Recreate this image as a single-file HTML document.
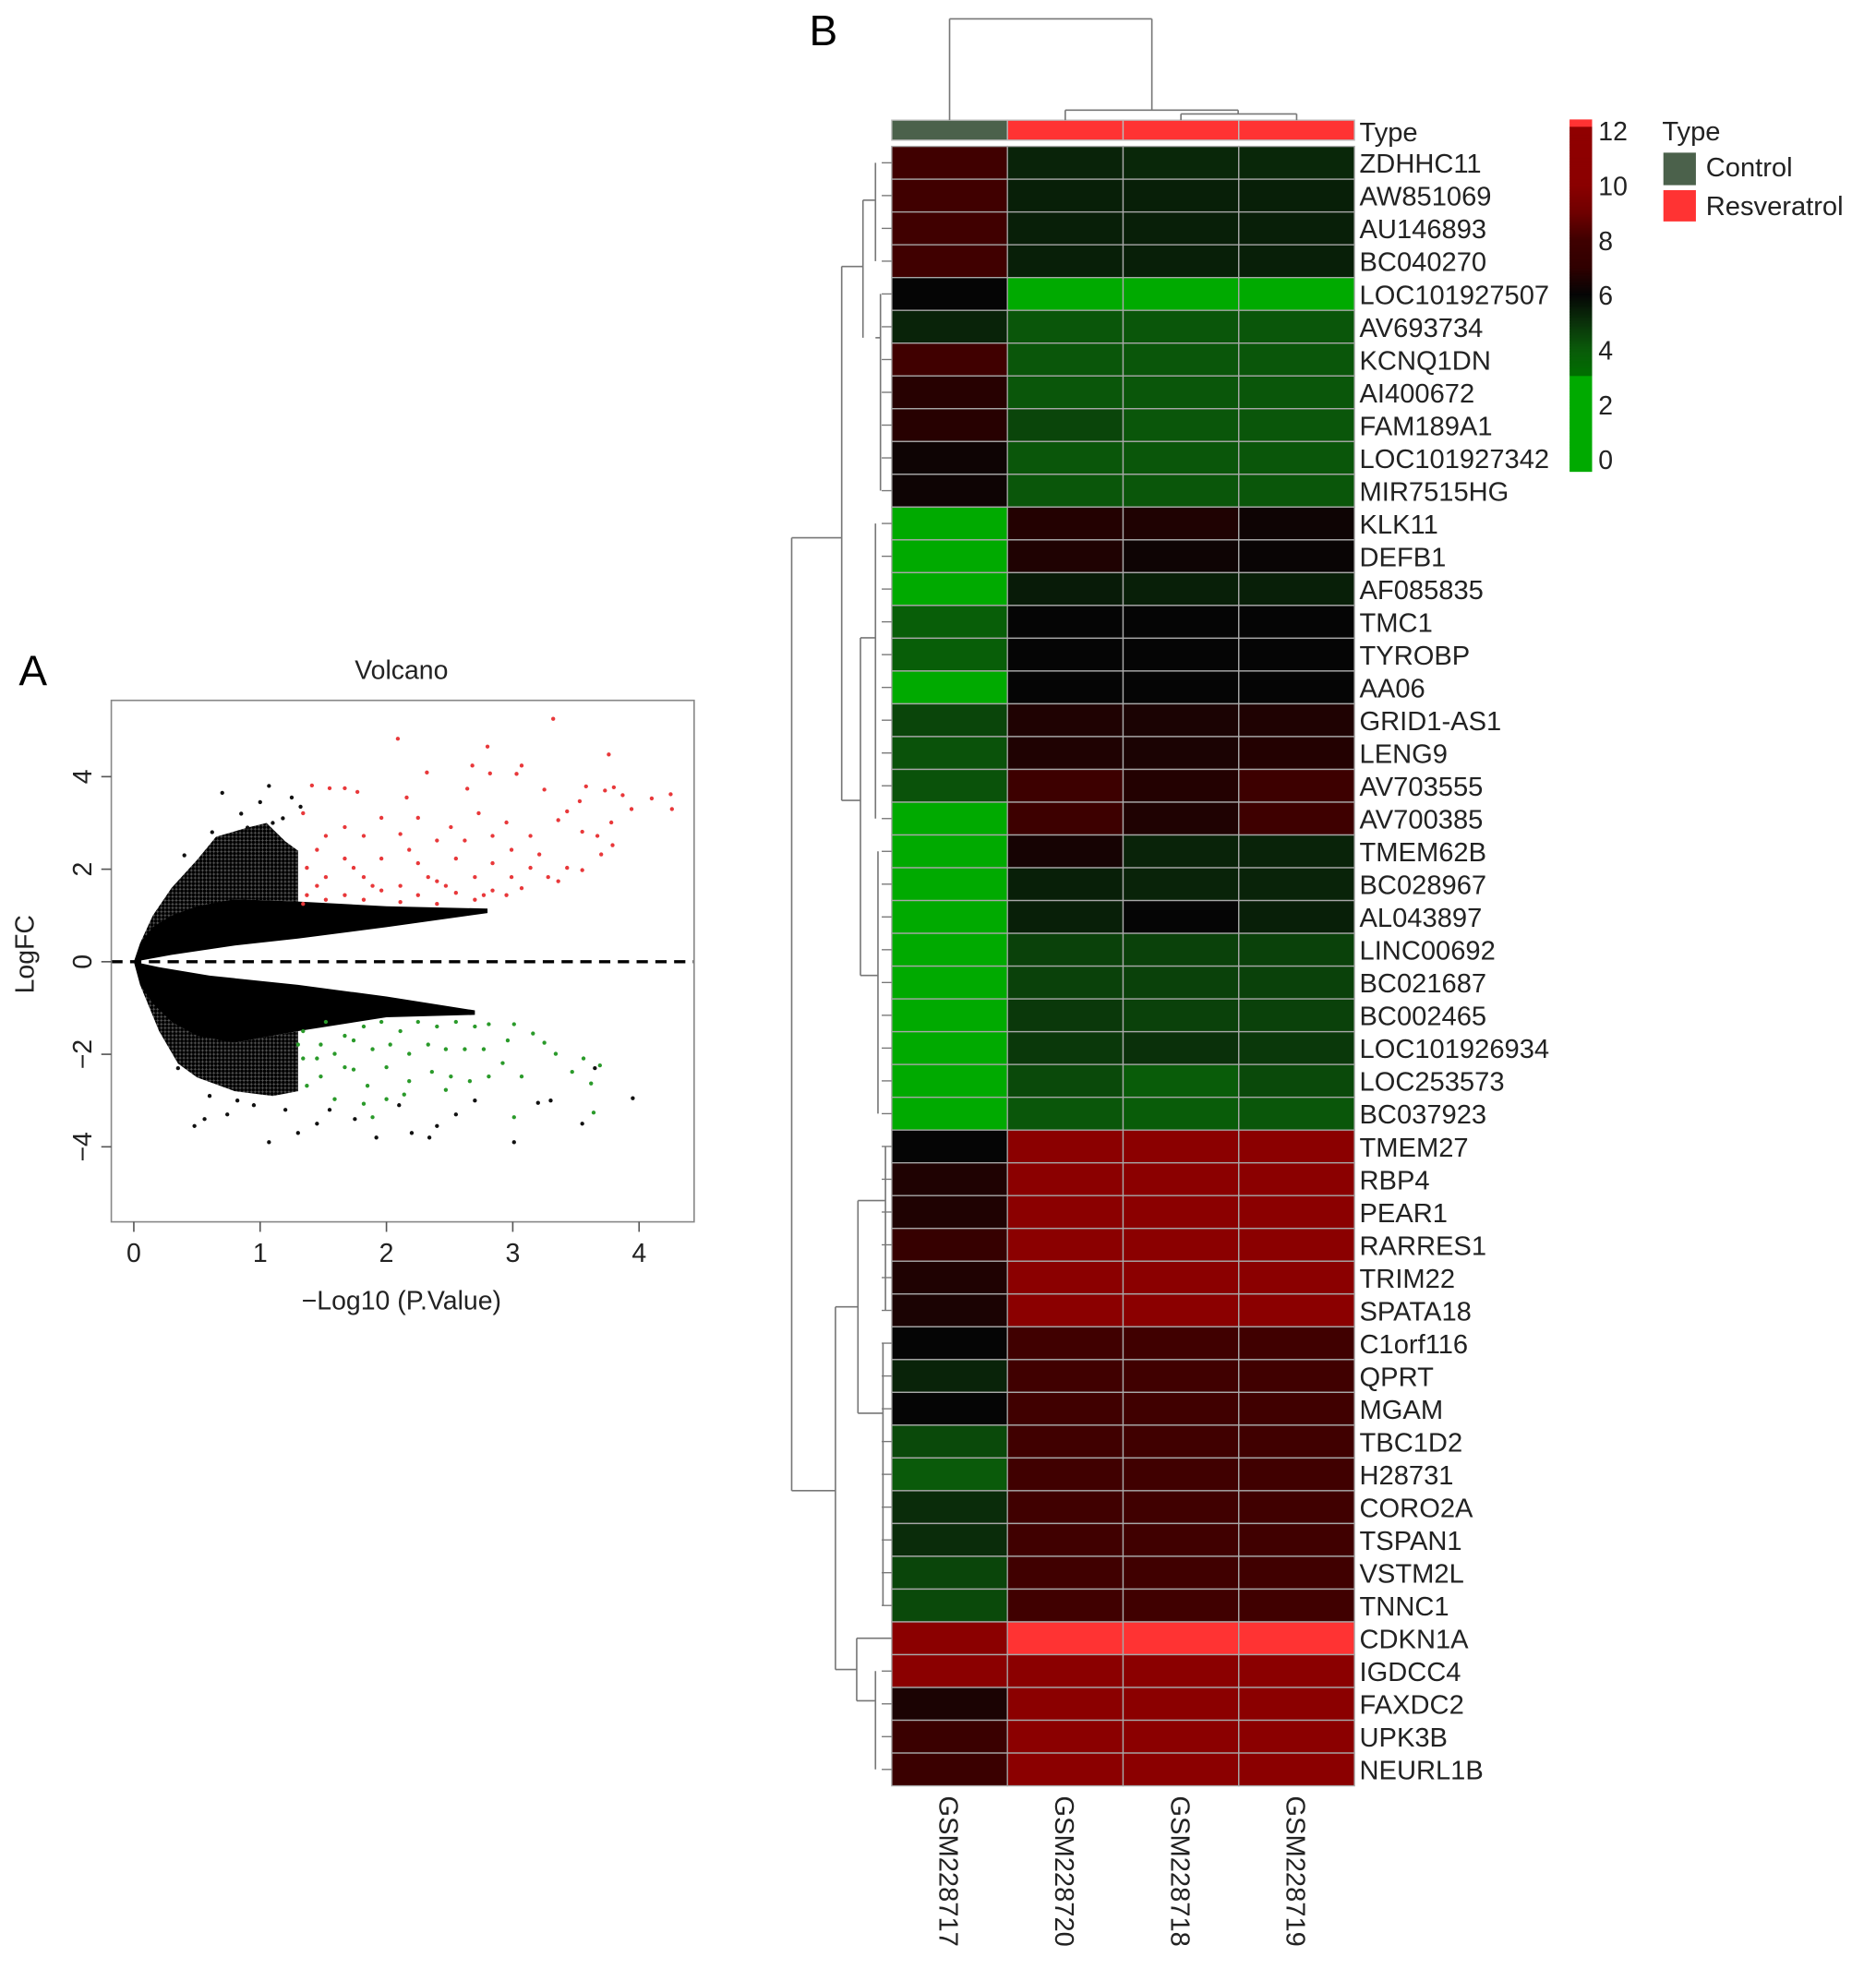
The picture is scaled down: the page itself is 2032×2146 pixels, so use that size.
<!DOCTYPE html>
<html><head><meta charset="utf-8">
<style>
html,body{margin:0;padding:0;background:#fff;}
svg{display:block;font-family:"Liberation Sans",Arial,sans-serif;}
</style></head>
<body>
<svg id="fig" width="2032" height="2146" viewBox="0 0 1500 1584" xmlns="http://www.w3.org/2000/svg">
<defs>
<pattern id="sparse" width="3" height="3" patternUnits="userSpaceOnUse"><rect width="3" height="3" fill="#555"/><circle cx="1.5" cy="1.5" r="1.4" fill="#000"/></pattern>
</defs>
<rect width="1500" height="1584" fill="#fff"/>
<g id="volcano"></g>
<g id="heat"></g>
</svg>
<script>
// ---------- Volcano data ----------
const xTicks = [0,1,2,3,4];
const yTicks = [-4,-2,0,2,4];
const upperDenseX = [0,0.05,0.15,0.3,0.5,0.8,1.3,2.0,2.8,2.8,2.0,1.3,0.8,0.3,0];
const upperDenseY = [0,0.4,0.75,1.0,1.2,1.35,1.3,1.2,1.15,1.05,0.75,0.5,0.35,0.15,0];
const upperSparseX = [0.05,0.15,0.3,0.5,0.65,0.9,1.05,1.2,1.3,1.3,0.8,0.3];
const upperSparseY = [0.4,1.0,1.6,2.2,2.7,2.9,3.0,2.6,2.4,1.3,1.35,1.0];
const lowerDenseX = [0,0.05,0.15,0.3,0.5,0.8,1.3,2.0,2.7,2.7,2.0,1.3,0.6,0.2,0];
const lowerDenseY = [0,-0.5,-0.9,-1.3,-1.6,-1.75,-1.5,-1.2,-1.15,-1.05,-0.75,-0.5,-0.3,-0.12,0];
const lowerSparseX = [0.05,0.2,0.35,0.5,0.8,1.1,1.3,1.3,0.8,0.3];
const lowerSparseY = [-0.5,-1.5,-2.2,-2.5,-2.8,-2.9,-2.8,-1.5,-1.75,-1.3];
const blackX = [1.07,0.7,1.25,1.0,0.85,1.18,0.48,0.56,1.07,0.74,1.3,1.92,2.34,2.2,3.01,3.55,3.95,3.2,2.55,1.55,2.7,3.3,2.1,1.2,0.95,0.82,0.6,1.32,2.4,1.45,1.75,3.65,0.62,0.9,1.1,0.4,0.35];
const blackY = [3.8,3.65,3.55,3.45,3.2,3.1,-3.55,-3.4,-3.9,-3.3,-3.7,-3.8,-3.8,-3.7,-3.9,-3.5,-2.95,-3.05,-3.3,-3.2,-3.0,-3.0,-3.1,-3.2,-3.1,-3.0,-2.9,3.35,-3.55,-3.5,-3.4,-2.3,2.8,2.9,3.0,2.3,-2.3];
const redX = [2.09,3.32,2.8,3.76,2.68,3.07,2.32,2.82,3.03,3.58,3.8,4.25,4.1,4.26,3.94,3.87,3.73,1.55,1.67,1.41,1.77,2.16,2.64,3.25,3.53,3.43,3.67,3.78,3.7,3.79,3.55,3.36,3.14,2.95,2.84,2.73,2.51,2.4,2.25,2.11,1.96,1.82,1.67,1.52,1.45,1.34,1.37,1.52,1.67,1.82,1.96,2.11,2.25,2.4,2.55,2.7,2.84,2.99,3.14,3.28,3.43,3.55,3.21,2.99,1.37,1.52,1.67,1.82,1.96,2.11,2.25,2.4,2.55,2.7,2.84,2.95,3.07,3.36,1.34,1.45,1.89,2.47,2.77,1.74,2.18,2.33,2.62];
const redY = [4.82,5.25,4.65,4.48,4.24,4.24,4.09,4.07,4.06,3.79,3.77,3.62,3.53,3.3,3.3,3.6,3.7,3.75,3.75,3.81,3.67,3.55,3.74,3.72,3.47,3.25,2.72,3.01,2.32,2.52,2.81,3.06,2.72,3.01,2.72,3.21,2.91,2.62,3.11,2.76,3.11,2.72,2.91,2.72,2.42,3.21,2.03,1.83,2.23,1.83,2.23,1.64,2.13,1.74,2.23,1.83,2.13,1.83,2.03,1.83,2.03,1.98,2.32,2.42,1.44,1.34,1.44,1.34,1.54,1.29,1.44,1.25,1.49,1.34,1.54,1.44,1.59,1.74,1.25,1.64,1.64,1.64,1.44,2.03,2.42,1.83,2.62];
const greenX = [3.01,3.16,3.25,3.34,3.47,3.56,3.62,3.69,3.64,3.01,2.81,2.66,2.51,2.36,2.18,2.0,1.85,1.74,1.59,1.48,1.37,1.34,1.48,1.67,1.82,1.96,2.11,2.25,2.4,2.55,2.7,2.81,2.77,2.62,2.47,2.33,2.18,2.03,1.89,1.74,1.59,1.45,1.34,1.52,1.3,2.0,2.14,2.47,2.92,3.07,1.89,1.67,1.82,2.96];
const greenY = [-1.35,-1.55,-1.75,-1.99,-2.38,-2.09,-2.63,-2.24,-3.26,-3.36,-2.48,-2.58,-2.48,-2.38,-2.58,-2.97,-2.68,-2.33,-2.97,-2.48,-2.68,-2.09,-1.79,-1.6,-1.4,-1.3,-1.5,-1.3,-1.4,-1.3,-1.4,-1.35,-1.89,-1.89,-1.89,-1.79,-1.99,-1.79,-1.89,-1.7,-1.99,-2.09,-1.5,-1.3,-1.79,-2.28,-2.87,-2.77,-2.19,-2.48,-3.36,-2.28,-3.07,-1.7];

// ---------- Heatmap data ----------
const genes = ["ZDHHC11","AW851069","AU146893","BC040270","LOC101927507","AV693734","KCNQ1DN","AI400672","FAM189A1","LOC101927342","MIR7515HG","KLK11","DEFB1","AF085835","TMC1","TYROBP","AA06","GRID1-AS1","LENG9","AV703555","AV700385","TMEM62B","BC028967","AL043897","LINC00692","BC021687","BC002465","LOC101926934","LOC253573","BC037923","TMEM27","RBP4","PEAR1","RARRES1","TRIM22","SPATA18","C1orf116","QPRT","MGAM","TBC1D2","H28731","CORO2A","TSPAN1","VSTM2L","TNNC1","CDKN1A","IGDCC4","FAXDC2","UPK3B","NEURL1B"];
const samples = ["GSM228717","GSM228720","GSM228718","GSM228719"];
const sampleType = ["Control","Resveratrol","Resveratrol","Resveratrol"];
const colGSM228717 = [8.0,8.0,8.0,8.0,6.0,5.3,8.0,6.8,6.8,6.2,6.2,1,1,1,3.8,3.8,1,4.5,4.2,4.2,1,1,1,1,1,1,1,1,1,1,6.0,6.6,6.6,7.4,6.6,6.5,6.0,5.3,6.0,4.4,4.0,5.1,5.1,4.5,4.4,10.2,10.2,6.5,7.6,7.6];
const colGSM228720 = [5.3,5.4,5.4,5.4,1,4.1,4.1,4.1,4.5,4.1,4.1,6.7,6.6,5.5,6.0,6.0,6.0,6.6,6.6,7.8,7.8,6.4,5.4,5.4,4.6,4.6,4.8,4.8,4.4,4.1,10,10,10,10,10,10,8,8,8,8,8,8,8,8,8,12.3,10,10,10,10];
const colGSM228718 = [5.2,5.4,5.4,5.4,1,4.1,4.1,4.1,4.1,4.1,4.1,6.6,6.2,5.4,6.0,6.0,6.0,6.5,6.5,6.7,6.6,5.3,5.3,6.0,4.6,4.6,4.6,5.0,3.9,3.9,10,10,10,10,10,10,8,8,8,8,8,8,8,8,8,12.3,10,10,10,10];
const colGSM228719 = [5.2,5.4,5.4,5.4,1,4.1,4.1,4.1,4.1,4.1,4.1,6.2,6.1,5.4,6.0,6.0,6.0,6.6,6.7,7.8,7.9,5.3,5.3,5.4,4.6,4.6,4.6,4.8,4.4,4.1,10,10,10,10,10,10,8,8,8,8,8,8,8,8,8,12.3,10,10,10,10];
const scaleTicks = [0,2,4,6,8,10,12];

const NS="http://www.w3.org/2000/svg";
function mk(tag,attrs,parent){const e=document.createElementNS(NS,tag);for(const k in attrs)e.setAttribute(k,attrs[k]);parent.appendChild(e);return e;}
function txt(s,attrs,parent){const e=mk('text',attrs,parent);e.textContent=s;return e;}

// ---------- Volcano ----------
const V=document.getElementById('volcano');
const bx0=89,bx1=555,by0=560,by1=977;
const sx=v=>107+v*101;
const sy=v=>769-v*37;
function cloud(xs,ys,name,fill){
  let d='';xs.forEach((x,i)=>{d+=(i?'L':'M')+sx(x).toFixed(1)+','+sy(ys[i]).toFixed(1);});
  const p=mk('path',{d:d+'Z',fill:fill,stroke:'none'},V);
  
  
}
cloud(upperSparseX,upperSparseY,'upregulated-sparse-cloud','url(#sparse)');
cloud(lowerSparseX,lowerSparseY,'downregulated-sparse-cloud','url(#sparse)');
cloud(upperDenseX,upperDenseY,'upregulated-dense-cloud','#000');
cloud(lowerDenseX,lowerDenseY,'downregulated-dense-cloud','#000');
function pts(xs,ys,col,name){
  xs.forEach((x,i)=>{const c=mk('circle',{cx:sx(x),cy:sy(ys[i]),r:1.6,fill:col},V);
    
    });
}
pts(blackX,blackY,'#111','gene-point');
pts(redX,redY,'#e8383a','upregulated-gene-point');
pts(greenX,greenY,'#2a9a2a','downregulated-gene-point');
const zl=mk('line',{x1:bx0,x2:bx1,y1:sy(0),y2:sy(0),stroke:'#000','stroke-width':2.5,'stroke-dasharray':'9,6'},V);


const box=mk('rect',{x:bx0,y:by0,width:bx1-bx0,height:by1-by0,fill:'none',stroke:'#888','stroke-width':1.2},V);


xTicks.forEach(t=>{mk('line',{x1:sx(t),x2:sx(t),y1:by1,y2:by1+8,stroke:'#555','stroke-width':1.2},V);
  const l=txt(String(t),{x:sx(t),y:by1+32,'font-size':21,'text-anchor':'middle',fill:'#222'},V);
  
  });
yTicks.forEach(t=>{mk('line',{x1:bx0-8,x2:bx0,y1:sy(t),y2:sy(t),stroke:'#555','stroke-width':1.2},V);
  const l=txt(t<0?'\u2212'+(-t):String(t),{x:0,y:0,'font-size':21,'text-anchor':'middle',fill:'#222',transform:`translate(73,${sy(t)}) rotate(-90)`},V);
  
  });
txt('Volcano',{x:321,y:543,'font-size':21,'text-anchor':'middle',fill:'#222',},V);
txt('A',{x:15,y:548,'font-size':34,fill:'#000',},V);
txt('\u2212Log10 (P.Value)',{x:321,y:1047,'font-size':21,'text-anchor':'middle',fill:'#222',},V);
txt('LogFC',{x:0,y:0,'font-size':21,'text-anchor':'middle',fill:'#222',transform:'translate(27,763) rotate(-90)',},V);

// ---------- Heatmap ----------
const H=document.getElementById('heat');
const hx0=713,cw=92.5,hy0=117,rh=(1428-117)/50;
const stops=[[0,[0,170,0]],[3,[0,170,0]],[3.01,[0,112,0]],[4,[10,90,10]],[5,[10,48,10]],[6,[5,5,5]],[7,[48,0,0]],[8,[64,0,0]],[9,[112,0,0]],[10,[139,0,0]],[12.1,[144,0,0]],[12.15,[255,51,51]],[12.6,[255,51,51]]];
function color(v){
  if(v<=stops[0][0])return 'rgb('+stops[0][1]+')';
  for(let i=1;i<stops.length;i++){if(v<=stops[i][0]){const a=stops[i-1],b=stops[i];const t=(v-a[0])/(b[0]-a[0]);
    return 'rgb('+a[1].map((c,j)=>Math.round(c+(b[1][j]-c)*t)).join(',')+')';}}
  return 'rgb('+stops[stops.length-1][1]+')';
}
const cols=[colGSM228717,colGSM228720,colGSM228718,colGSM228719];
cols.forEach((col,ci)=>{col.forEach((v,ri)=>{
  const r=mk('rect',{x:hx0+ci*cw,y:hy0+ri*rh,width:cw,height:rh,fill:color(v),stroke:'#a8a8a8','stroke-width':1},H);
  
  
});});
sampleType.forEach((t,ci)=>{const r=mk('rect',{x:hx0+ci*cw,y:96,width:cw,height:16,fill:t==='Control'?'#4b614b':'#ff3333',stroke:'#bbb','stroke-width':1},H);
  
  });
txt('Type',{x:1087,y:113,'font-size':21.5,fill:'#222',},H);
genes.forEach((g,ri)=>{const l=txt(g,{x:1087,y:hy0+ri*rh+rh/2+8,'font-size':21.5,fill:'#222'},H);
  
  });
samples.forEach((s,ci)=>{const l=txt(s,{x:0,y:0,'font-size':21.5,fill:'#222',transform:`translate(${hx0+ci*cw+cw/2-8},1436) rotate(90)`},H);
  
  });
txt('B',{x:647,y:36,'font-size':34,fill:'#000',},H);
const cc=ci=>hx0+ci*cw+cw/2;
const dend=[[cc(0),96,cc(0),15],[cc(0),15,921,15],[921,15,921,88],[cc(1),96,cc(1),88],[cc(1),88,990,88],[990,88,990,91],[cc(2),96,cc(2),91],[cc(2),91,cc(3),91],[cc(3),91,cc(3),96]];
dend.forEach(s=>{const l=mk('line',{x1:s[0],y1:s[1],x2:s[2],y2:s[3],stroke:'#777','stroke-width':1.2},H);
  
  });
const ry=i=>hy0+i*rh+rh/2;
const rd=[[633,430,633,1192],[633,430,673,430],[633,1192,668,1192],
[673,213,673,640],[673,213,690,213],[673,640,688,640],
[690,160,690,270],[690,160,700,160],[700,ry(0),700,ry(3)],[700,270,704,270],[704,ry(4),704,ry(10)],
[688,510,688,780],[688,510,700,510],[700,ry(11),700,ry(20)],[688,780,702,780],[702,ry(21),702,ry(29)],
[668,1045,668,1335],[668,1045,686,1045],[686,960,686,1130],[686,960,708,960],[708,ry(30),708,ry(35)],[686,1130,706,1130],[706,ry(36),706,ry(44)],
[668,1335,685,1335],[685,1310,685,1360],[685,1310,712,1310],[685,1360,700,1360],[700,ry(46),700,ry(49)]];
rd.forEach(s=>{const l=mk('line',{x1:s[0],y1:s[1],x2:s[2],y2:s[3],stroke:'#777','stroke-width':1.2},H);
  
  });
genes.forEach((g,ri)=>{mk('line',{x1:705,y1:ry(ri),x2:713,y2:ry(ri),stroke:'#777','stroke-width':1},H);});
const csy=v=>367-v*21.9;
for(let v=-0.45;v<12.37;v+=0.05){mk('rect',{x:1255,y:csy(v+0.05),width:18,height:21.9*0.05+0.4,fill:color(v)},H);}
scaleTicks.forEach(t=>{const l=txt(String(t),{x:1278,y:csy(t)+8,'font-size':21,fill:'#222'},H);
  
  });
txt('Type',{x:1329,y:112,'font-size':21.5,fill:'#222',},H);
mk('rect',{x:1330,y:122,width:26,height:26,fill:'#4b614b',},H);
txt('Control',{x:1364,y:141,'font-size':21.5,fill:'#222',},H);
mk('rect',{x:1330,y:152,width:26,height:25,fill:'#ff3333',},H);
txt('Resveratrol',{x:1364,y:172,'font-size':21.5,fill:'#222',},H);
</script>
</body></html>
